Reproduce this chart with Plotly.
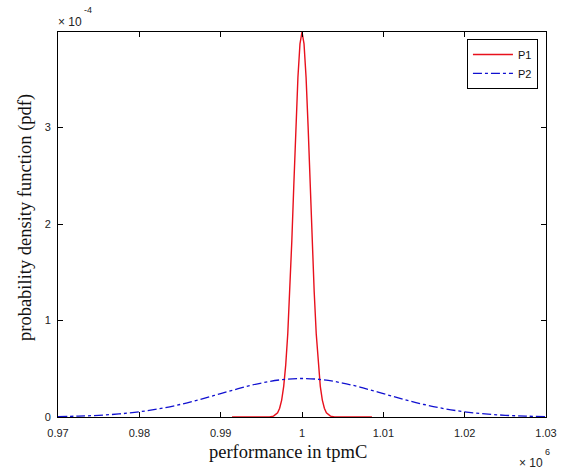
import plotly.graph_objects as go

# x in units of 1e6 tpmC, y in units of 1e-4
p1_x = [0.9914, 0.9960, 0.9965, 0.9970, 0.99725, 0.9975, 0.99775, 0.9980, 0.99825, 0.9985,
        0.99875, 0.9990, 0.99925, 0.9995, 0.99975, 1.0000, 1.00025, 1.0005, 1.00075, 1.0010,
        1.00125, 1.0015, 1.00175, 1.0020, 1.00225, 1.0025, 1.00275, 1.0030, 1.0035, 1.0040, 1.0086]
p1_y = [0.0, 0.001, 0.009, 0.044, 0.091, 0.175, 0.318, 0.540, 0.863, 1.295,
        1.827, 2.420, 3.012, 3.521, 3.867, 3.99, 3.867, 3.521, 3.012, 2.420,
        1.827, 1.295, 0.863, 0.540, 0.318, 0.175, 0.091, 0.044, 0.009, 0.001, 0.0]

p2_x = [0.970, 0.9725, 0.975, 0.9775, 0.980, 0.9825, 0.985, 0.9875, 0.990, 0.9925, 0.995, 0.9975,
        1.000, 1.0025, 1.005, 1.0075, 1.010, 1.0125, 1.015, 1.0175, 1.020, 1.0225, 1.025, 1.0275, 1.030]
p2_y = [0.0044, 0.0091, 0.0175, 0.0318, 0.0540, 0.0863, 0.1295, 0.1827, 0.2420, 0.3012, 0.3521, 0.3867,
        0.399, 0.3867, 0.3521, 0.3012, 0.2420, 0.1827, 0.1295, 0.0863, 0.0540, 0.0318, 0.0175, 0.0091, 0.0044]

x_ticks = [0.97, 0.98, 0.99, 1.00, 1.01, 1.02, 1.03]
x_ticktext = ["0.97", "0.98", "0.99", "1", "1.01", "1.02", "1.03"]
y_ticks = [0, 1, 2, 3]
y_ticktext = ["0", "1", "2", "3"]

x_title = "performance in tpmC"
y_title = "probability density function (pdf)"

fig = go.Figure()
fig.add_trace(go.Scatter(x=p1_x, y=p1_y, mode="lines", name="P1",
                         line=dict(color="#e8101c", width=1.4)))
fig.add_trace(go.Scatter(x=p2_x, y=p2_y, mode="lines", name="P2",
                         line=dict(color="#1010d0", width=1.3, dash="dashdot"), line_shape="spline"))

sans = "Liberation Sans, Arial, sans-serif"
serif = "Liberation Serif, Times New Roman, serif"
tickfont = dict(family=sans, size=11, color="#222")
axis_common = dict(showgrid=False, zeroline=False, showline=True, linecolor="black", linewidth=1,
                   mirror="ticks", ticks="inside", ticklen=5, tickcolor="black", tickfont=tickfont,
                   automargin=False)

W, H = 561, 469
L, R, T, B = 58, 15, 32, 52
pw, ph = W - L - R, H - T - B

fig.update_layout(
    width=W, height=H,
    margin=dict(l=L, r=R, t=T, b=B),
    paper_bgcolor="white", plot_bgcolor="white",
    xaxis=dict(range=[0.97, 1.03], tickvals=x_ticks, ticktext=x_ticktext, ticklabelstandoff=6,
               **axis_common),
    yaxis=dict(range=[0, 3.99], tickvals=y_ticks, ticktext=y_ticktext, ticklabelstandoff=4,
               **axis_common),
    legend=dict(x=0.838, y=0.982, xanchor="left", yanchor="top", bordercolor="black", borderwidth=1,
                bgcolor="white", font=dict(family=sans, size=11, color="#111"),
                tracegroupgap=0, itemwidth=40),
    showlegend=True,
)

# axis titles placed to match the reference
fig.add_annotation(xref="paper", yref="paper", x=(288 - L) / pw, y=(H - B - 452) / ph,
                   xanchor="center", yanchor="middle", text=x_title, showarrow=False,
                   font=dict(family=serif, size=18.5, color="#111"))
fig.add_annotation(xref="paper", yref="paper", x=(25 - L) / pw, y=(H - B - 218) / ph,
                   xanchor="center", yanchor="middle", text=y_title, showarrow=False, textangle=-90,
                   font=dict(family=serif, size=18.5, color="#111"))

# exponent labels (MATLAB style)
fig.add_annotation(xref="paper", yref="paper", x=0.0, y=1.0, xanchor="left", yanchor="middle",
                   text="× 10", showarrow=False, yshift=10, xshift=-2,
                   font=dict(family=sans, size=12, color="#222"))
fig.add_annotation(xref="paper", yref="paper", x=0.0, y=1.0, xanchor="left", yanchor="middle",
                   text="-4", showarrow=False, yshift=22, xshift=24,
                   font=dict(family=sans, size=9, color="#222"))
fig.add_annotation(xref="paper", yref="paper", x=1.0, y=0.0, xanchor="right", yanchor="middle",
                   text="× 10", showarrow=False, yshift=-46, xshift=-1,
                   font=dict(family=sans, size=12, color="#222"))
fig.add_annotation(xref="paper", yref="paper", x=1.0, y=0.0, xanchor="left", yanchor="middle",
                   text="6", showarrow=False, yshift=-35, xshift=-3,
                   font=dict(family=sans, size=9, color="#222"))

fig.write_html("out.html", config={"displayModeBar": False},
               post_script="document.body.style.margin='0';")
